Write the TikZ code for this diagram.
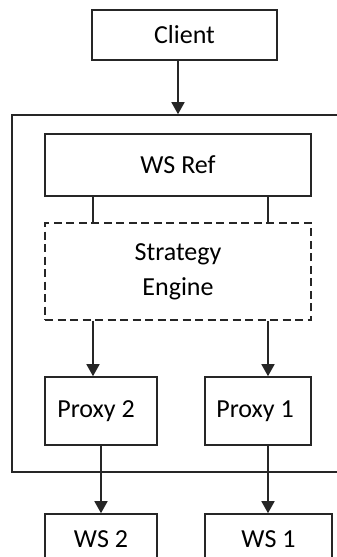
\documentclass[tikz,border=0pt]{standalone}
\usepackage{fontspec}
\setmainfont{Carlito}
\usetikzlibrary{arrows.meta,calc}
\begin{document}
\begin{tikzpicture}[x=1pt,y=-1pt,
  box/.style={draw=black!85, line width=1.6pt, inner sep=0pt, font=\fontsize{26}{35}\selectfont, align=center},
  dashbox/.style={box, dash pattern=on 8pt off 4.5pt},
  arr/.style={draw=black!85, line width=1.6pt, -{Triangle[width=13pt,length=12pt]}},
  link/.style={draw=black!85, line width=1.6pt}]
\useasboundingbox (0,0) rectangle (337,557);
\clip (0,0) rectangle (337,557);
\node[box, minimum width=185, minimum height=50] (client) at (184.5,35) {Client};
\node[box, minimum width=338, minimum height=357] (outer) at (181,293.5) {};
\node[box, minimum width=266, minimum height=62] (wsref) at (178,165) {WS Ref};
\node[dashbox, minimum width=266, minimum height=97] (engine) at (178,271.5) {Strategy\\Engine};
\node[box, minimum width=112, minimum height=68] (proxy2) at (101,411) {\raisebox{-3pt}{Proxy 2}\hspace*{10pt}};
\node[box, minimum width=106, minimum height=68] (proxy1) at (258,411) {\raisebox{-3pt}{Proxy 1}\hspace*{6pt}};
\node[box, minimum width=112, minimum height=50] (ws2) at (101,539) {WS 2};
\node[box, minimum width=127, minimum height=50] (ws1) at (268.5,539) {WS 1};
% connectors
\coordinate (c0) at ($(client.south)+(-6.5,0)$);
\draw[arr] (c0) -- (c0 |- outer.north);
\coordinate (l1) at ($(wsref.south)+(-85,0)$);
\coordinate (r1) at ($(wsref.south)+(90,0)$);
\draw[link] (l1) -- (l1 |- engine.north);
\draw[link] (r1) -- (r1 |- engine.north);
\coordinate (l2) at ($(engine.south)+(-85,0)$);
\coordinate (r2) at ($(engine.south)+(90,0)$);
\draw[arr] (l2) -- (l2 |- proxy2.north);
\draw[arr] (r2) -- (r2 |- proxy1.north);
\draw[arr] (proxy2.south) -- (ws2.north);
\coordinate (r3) at (r2 |- proxy1.south);
\draw[arr] (r3) -- (r3 |- ws1.north);
\end{tikzpicture}
\end{document}
